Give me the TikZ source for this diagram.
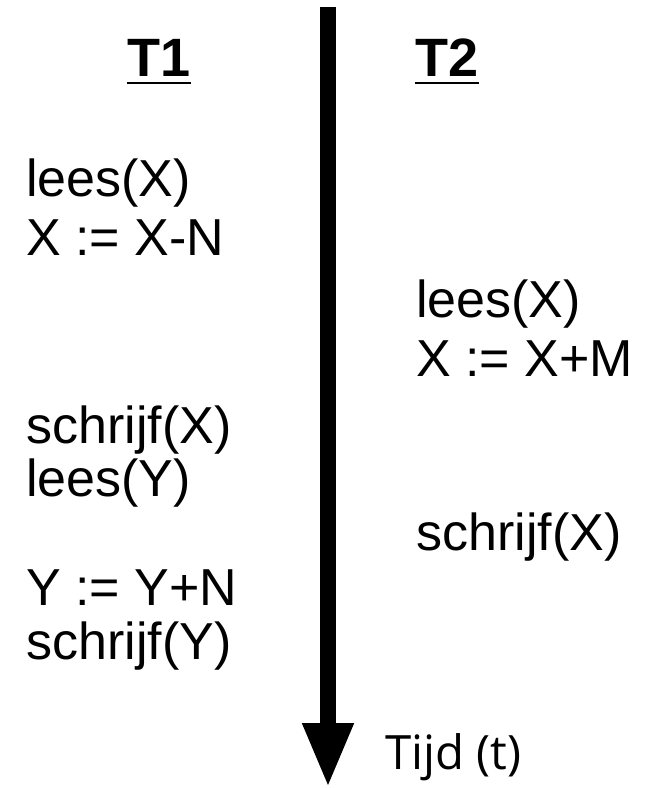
\documentclass[tikz,border=0pt]{standalone}
\usepackage{fontspec}
\setmainfont{Liberation Sans}
\newfontfamily\tijdfont{Open Sans}
\usetikzlibrary{arrows.meta}

\begin{document}
\begin{tikzpicture}[x=0.75pt,y=-0.75pt,
  stap/.style={anchor=base west,inner sep=0pt,font=\fontsize{39}{45}\selectfont},
  kop/.style={anchor=base,inner sep=0pt,font=\fontsize{40.5}{48}\selectfont\bfseries},
  tijdas/.style={line width=12pt,-{Triangle[length=48.75pt,width=35.25pt]}}]
\useasboundingbox (0,0) rectangle (653,788);
% tijdlijn
\coordinate (top) at (328,7);
\coordinate (bodem) at (328,788);
\draw[tijdas] (top) -- (bodem);
\node[anchor=base west,inner sep=0pt,font=\fontsize{35.5}{42}\tijdfont] (tijd) at (385,769) {Tijd (t)};
% koppen
\node[kop] (t1) at (159,77) {T1};
\node[kop] (t2) at (447,77) {T2};
\draw[line width=1.9pt] ([yshift=-4.5pt]t1.base west) -- ([yshift=-4.5pt]t1.base east);
\draw[line width=1.9pt] ([yshift=-4.5pt]t2.base west) -- ([yshift=-4.5pt]t2.base east);
% T1
\node[stap] (a1) at (26,196) {lees(X)};
\node[stap] (a2) at (26,255) {X := X-N};
\node[stap] (a3) at (26,443) {schrijf(X)};
\node[stap] (a4) at (26,496) {lees(Y)};
\node[stap] (a5) at (26,605) {Y := Y+N};
\node[stap] (a6) at (26,659) {schrijf(Y)};
% T2
\node[stap] (b1) at (416,317) {lees(X)};
\node[stap] (b2) at (416,376) {X := X+M};
\node[stap] (b3) at (416,550) {schrijf(X)};
\end{tikzpicture}
\end{document}
